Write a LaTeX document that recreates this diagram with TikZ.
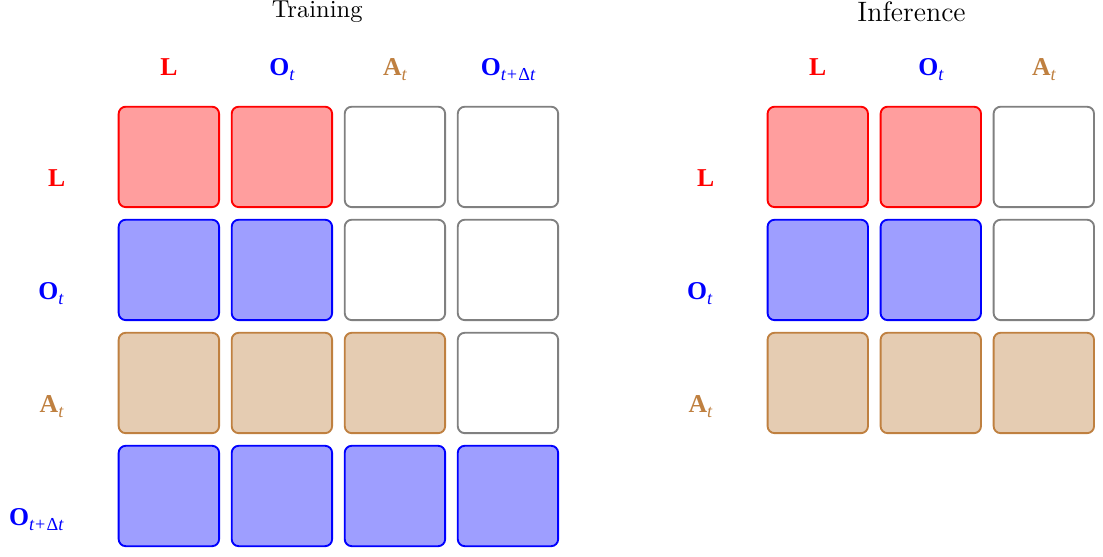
\documentclass[tikz,border=0pt]{standalone}
\usepackage{fontspec}
\newfontfamily\lblfont{Liberation Serif}
% label: bold letter with italic subscript
\newcommand{\lbl}[2]{{\lblfont\fontsize{11}{13}\selectfont\textbf{#1}\raisebox{-0.22em}{\fontsize{7.8}{9}\selectfont #2}}}
\newcommand{\tdt}{\itshape t\hspace{0.06em}\upshape+\hspace{0.06em}Δ\itshape t} % t+Δt
\begin{document}
\begin{tikzpicture}
\tikzstyle{cell} = [rectangle, rounded corners=3pt, thick, minimum size=1.51cm, inner sep=0pt] % ячейка
\tikzstyle{redcell} = [cell, draw=red, fill=red!38]
\tikzstyle{bluecell} = [cell, draw=blue, fill=blue!38]
\tikzstyle{browncell} = [cell, draw=brown, fill=brown!40]
\tikzstyle{emptycell} = [cell, draw=gray, fill=white]
\tikzstyle{head} = [anchor=base, inner sep=0pt] % подпись столбца
\tikzstyle{side} = [anchor=base east, inner sep=0pt] % подпись строки
\useasboundingbox (0,0) rectangle (16.59,-8.376);
% Training
\node[anchor=base, font=\fontsize{10.5}{12}\selectfont] (train) at (4.77,-0.27) {Training};
\node[head, red] (tc1) at (2.54,-1.13) {\lbl{L}{}};
\node[head, blue] (tc2) at (4.24,-1.13) {\lbl{O}{\itshape t}};
\node[head, brown] (tc3) at (5.94,-1.13) {\lbl{A}{\itshape t}};
\node[head, blue] (tc4) at (7.64,-1.13) {\lbl{O}{\tdt}};
\node[side, red] (tr1) at (0.99,-2.80) {\lbl{L}{}};
\node[side, blue] (tr2) at (0.96,-4.50) {\lbl{O}{\itshape t}};
\node[side, brown] (tr3) at (0.96,-6.20) {\lbl{A}{\itshape t}};
\node[side, blue] (tr4) at (0.96,-7.90) {\lbl{O}{\tdt}};
\node[redcell] (t11) at (2.54,-2.36) {};
\node[redcell] (t12) at (4.24,-2.36) {};
\node[emptycell] (t13) at (5.94,-2.36) {};
\node[emptycell] (t14) at (7.64,-2.36) {};
\node[bluecell] (t21) at (2.54,-4.06) {};
\node[bluecell] (t22) at (4.24,-4.06) {};
\node[emptycell] (t23) at (5.94,-4.06) {};
\node[emptycell] (t24) at (7.64,-4.06) {};
\node[browncell] (t31) at (2.54,-5.76) {};
\node[browncell] (t32) at (4.24,-5.76) {};
\node[browncell] (t33) at (5.94,-5.76) {};
\node[emptycell] (t34) at (7.64,-5.76) {};
\node[bluecell] (t41) at (2.54,-7.46) {};
\node[bluecell] (t42) at (4.24,-7.46) {};
\node[bluecell] (t43) at (5.94,-7.46) {};
\node[bluecell] (t44) at (7.64,-7.46) {};
% Inference
\node[anchor=base, font=\large] (infer) at (13.71,-0.32) {Inference};
\node[head, red] (ic1) at (12.30,-1.13) {\lbl{L}{}};
\node[head, blue] (ic2) at (14.00,-1.13) {\lbl{O}{\itshape t}};
\node[head, brown] (ic3) at (15.70,-1.13) {\lbl{A}{\itshape t}};
\node[side, red] (ir1) at (10.75,-2.80) {\lbl{L}{}};
\node[side, blue] (ir2) at (10.72,-4.50) {\lbl{O}{\itshape t}};
\node[side, brown] (ir3) at (10.72,-6.20) {\lbl{A}{\itshape t}};
\node[redcell] (i11) at (12.30,-2.36) {};
\node[redcell] (i12) at (14.00,-2.36) {};
\node[emptycell] (i13) at (15.70,-2.36) {};
\node[bluecell] (i21) at (12.30,-4.06) {};
\node[bluecell] (i22) at (14.00,-4.06) {};
\node[emptycell] (i23) at (15.70,-4.06) {};
\node[browncell] (i31) at (12.30,-5.76) {};
\node[browncell] (i32) at (14.00,-5.76) {};
\node[browncell] (i33) at (15.70,-5.76) {};
\end{tikzpicture}
\end{document}
